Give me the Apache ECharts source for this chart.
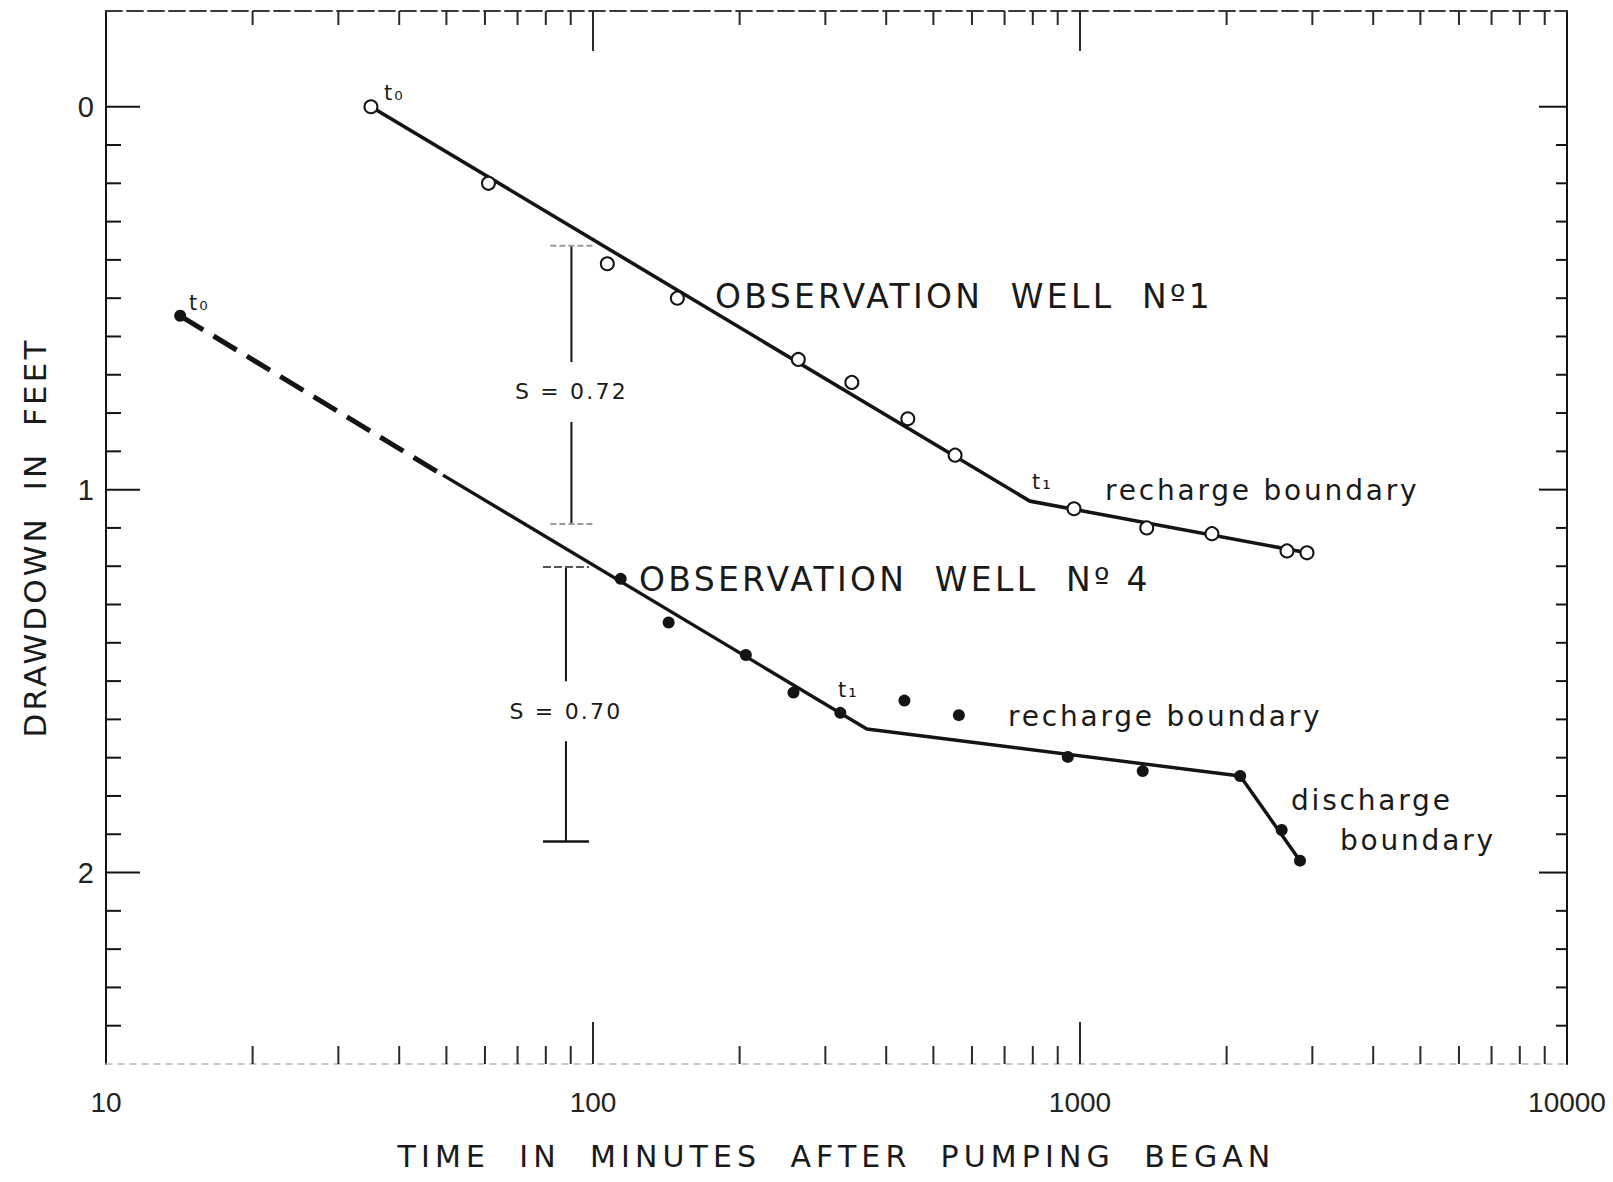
<!DOCTYPE html>
<html>
<head>
<meta charset="utf-8">
<script src="https://cdn.jsdelivr.net/npm/echarts@6/dist/echarts.min.js"></script>
<style>
html, body { margin: 0; padding: 0; background: #ffffff; }
#chart { width: 1613px; height: 1182px; }
#chart text[style*="DejaVu"] { letter-spacing: 0.1em; }
#chart text[style*="DejaVu"][style*="30px"] { letter-spacing: 0.17em; }
</style>
</head>
<body>
<div id="chart"></div>
<script>
// ---------------- data ----------------
// Observation well No.1 (open circles)
const well1Time     = [35, 61, 107, 149, 264, 340, 443, 554, 972, 1371, 1866, 2661, 2925];
const well1Drawdown = [0.0, 0.20, 0.41, 0.50, 0.66, 0.72, 0.815, 0.91, 1.05, 1.10, 1.115, 1.16, 1.165];
// fitted straight-line segments, well 1
const well1FitTime     = [35, 789, 2925];
const well1FitDrawdown = [0.0, 1.03, 1.165];

// Observation well No.4 (filled dots)
const well4Time     = [14.2, 114, 143, 206, 258, 322, 436, 564, 944, 1345, 2133, 2595, 2830];
const well4Drawdown = [0.546, 1.233, 1.347, 1.432, 1.53, 1.583, 1.551, 1.589, 1.698, 1.735, 1.748, 1.889, 1.969];
// fitted segments, well 4 (dashed extrapolation then solid)
const well4DashTime     = [14.2, 49.2];
const well4DashDrawdown = [0.546, 0.962];
const well4FitTime      = [49.2, 365, 2133, 2830];
const well4FitDrawdown  = [0.962, 1.625, 1.748, 1.969];

// slope markers (drawdown per log cycle)
const sBarTime   = [90.3, 88.0];
const sBarTop    = [0.363, 1.202];
const sBarBottom = [1.090, 1.919];
const sBarLabel  = ['S = 0.72', 'S = 0.70'];

// axes
const xMajorTicks = [10, 100, 1000, 10000];
const xMinorMultipliers = [2, 3, 4, 5, 6, 7, 8, 9];
const xTickLabels = ['10', '100', '1000', '10000'];
const yMajorTicks = [0, 1, 2];
const yTickLabels = ['0', '1', '2'];
const yMin = -0.25, yMax = 2.5, yTickStep = 0.1, yLastTick = 2.4;

// ---------------- build ----------------
const pairs = (xs, ys) => xs.map((x, i) => [x, ys[i]]);

const xTickData = [];
for (let k = 0; k < xMajorTicks.length - 1; k++) {
  const d = xMajorTicks[k];
  xMinorMultipliers.forEach(m => xTickData.push([d * m, 0, 0]));
  if (k > 0) xTickData.push([d, 0, 1]);
}
const yTickData = [];
for (let i = 0; i * yTickStep <= yLastTick + 1e-9; i++) {
  const v = Math.round(i * yTickStep * 10) / 10;
  yTickData.push([100, v, yMajorTicks.includes(v) ? 1 : 0]);
}

const INK = '#141414';
const TEXT = '#1a1a1a';
const FONT = 'DejaVu Sans';
const NUMFONT = 'Liberation Sans Narrow, Liberation Sans, sans-serif';

const chart = echarts.init(document.getElementById('chart'), null, { renderer: 'svg' });

function renderXTicks(params, api) {
  const cs = params.coordSys;
  const x = api.coord([api.value(0), 0])[0];
  const major = api.value(2) === 1;
  const top = cs.y, bot = cs.y + cs.height;
  const lb = major ? 42 : 18, lt = major ? 40 : 14;
  return {
    type: 'group',
    children: [
      { type: 'line', shape: { x1: x, y1: bot, x2: x, y2: bot - lb }, style: { stroke: '#2a2a2a', lineWidth: 2 } },
      { type: 'line', shape: { x1: x, y1: top, x2: x, y2: top + lt }, style: { stroke: '#2a2a2a', lineWidth: 2 } }
    ]
  };
}

function renderYTicks(params, api) {
  const cs = params.coordSys;
  const y = api.coord([100, api.value(1)])[1];
  const major = api.value(2) === 1;
  const l = cs.x, r = cs.x + cs.width;
  const ll = major ? 34 : 15, lr = major ? 28 : 11;
  return {
    type: 'group',
    children: [
      { type: 'line', shape: { x1: l, y1: y, x2: l + ll, y2: y }, style: { stroke: INK, lineWidth: 2 } },
      { type: 'line', shape: { x1: r, y1: y, x2: r - lr, y2: y }, style: { stroke: INK, lineWidth: 2 } }
    ]
  };
}

const capStyles = [
  [{ stroke: '#9a9a9a', lineWidth: 2, lineDash: [6, 3] }, { stroke: '#9a9a9a', lineWidth: 2, lineDash: [6, 3] }],
  [{ stroke: '#555555', lineWidth: 2, lineDash: [8, 3] }, { stroke: INK, lineWidth: 2.5 }]
];

function renderSBar(params, api) {
  const i = params.dataIndex;
  const t = api.value(0);
  const pTop = api.coord([t, api.value(1)]);
  const pBot = api.coord([t, api.value(2)]);
  const x = pTop[0];
  const mid = (pTop[1] + pBot[1]) / 2 + 7;
  const cw = i === 1 ? 23 : 21;
  return {
    type: 'group',
    children: [
      { type: 'line', shape: { x1: x, y1: pTop[1], x2: x, y2: pBot[1] }, style: { stroke: INK, lineWidth: 2 } },
      { type: 'line', shape: { x1: x - cw, y1: pTop[1], x2: x + cw, y2: pTop[1] }, style: capStyles[i][0] },
      { type: 'line', shape: { x1: x - cw, y1: pBot[1], x2: x + cw, y2: pBot[1] }, style: capStyles[i][1] },
      {
        type: 'text', z2: 10,
        style: {
          text: sBarLabel[i], x: x, y: mid, align: 'center', verticalAlign: 'middle',
          font: '22px ' + FONT, fill: TEXT, backgroundColor: '#ffffff', padding: [19, 4]
        }
      }
    ]
  };
}

const annot = (text, x, y, size) => ({
  type: 'text', x: x, y: y, z: 50,
  style: { text: text, font: size + 'px ' + FONT, fill: TEXT, align: 'left', verticalAlign: 'middle' }
});

const option = {
  animation: false,
  backgroundColor: '#ffffff',
  grid: { left: 106, right: 46, top: 11, bottom: 118, containLabel: false },
  xAxis: [
    {
      type: 'log', logBase: 10, min: 10, max: 10000, position: 'bottom',
      name: 'TIME  IN  MINUTES  AFTER  PUMPING  BEGAN',
      nameLocation: 'middle', nameGap: 77,
      nameTextStyle: { fontFamily: FONT, fontSize: 30, color: TEXT },
      axisLine: { show: true, onZero: false, lineStyle: { color: '#b5b5b5', width: 1.5, type: [6, 6] } },
      axisTick: { show: false },
      splitLine: { show: false },
      minorTick: { show: false },
      axisLabel: {
        margin: 24, fontFamily: NUMFONT, fontSize: 28, color: '#222',
        formatter: v => {
          const k = xMajorTicks.findIndex(m => Math.abs(m - v) / m < 1e-6);
          return k >= 0 ? xTickLabels[k] : '';
        }
      }
    },
    {
      type: 'log', logBase: 10, min: 10, max: 10000, position: 'top',
      axisLine: { show: true, onZero: false, lineStyle: { color: '#3a3a3a', width: 1.8, type: [16, 5] } },
      axisTick: { show: false }, axisLabel: { show: false }, splitLine: { show: false }
    }
  ],
  yAxis: [
    {
      type: 'value', inverse: true, min: yMin, max: yMax, interval: 0.25, position: 'left',
      name: 'DRAWDOWN  IN  FEET',
      nameLocation: 'middle', nameGap: 56, nameRotate: 90,
      nameTextStyle: { fontFamily: FONT, fontSize: 31, color: TEXT },
      axisLine: { show: true, onZero: false, lineStyle: { color: INK, width: 2 } },
      axisTick: { show: false },
      splitLine: { show: false },
      axisLabel: {
        margin: 12, fontFamily: NUMFONT, fontSize: 29, color: '#222',
        formatter: v => {
          const k = yMajorTicks.findIndex(m => Math.abs(m - v) < 1e-6);
          return k >= 0 ? yTickLabels[k] : '';
        }
      }
    },
    {
      type: 'value', inverse: true, min: yMin, max: yMax, interval: 0.25, position: 'right',
      axisLine: { show: true, onZero: false, lineStyle: { color: INK, width: 2 } },
      axisTick: { show: false }, axisLabel: { show: false }, splitLine: { show: false }
    }
  ],
  series: [
    {
      name: 'x ticks', type: 'custom', renderItem: renderXTicks, data: xTickData,
      silent: true, clip: false, z: 1
    },
    {
      name: 'y ticks', type: 'custom', renderItem: renderYTicks, data: yTickData,
      silent: true, clip: false, z: 1
    },
    {
      name: 'slope markers', type: 'custom', renderItem: renderSBar,
      data: sBarTime.map((t, i) => [t, sBarTop[i], sBarBottom[i]]),
      encode: { x: 0, y: [1, 2] }, silent: true, z: 2
    },
    {
      name: 'Well 1 fit', type: 'line', data: pairs(well1FitTime, well1FitDrawdown),
      showSymbol: false, symbol: 'none', lineStyle: { color: INK, width: 3.6 }, z: 3, silent: true
    },
    {
      name: 'Well 4 extrapolation', type: 'line', data: pairs(well4DashTime, well4DashDrawdown),
      showSymbol: false, symbol: 'none', lineStyle: { color: INK, width: 5, type: [27, 12] }, z: 3, silent: true
    },
    {
      name: 'Well 4 fit', type: 'line', data: pairs(well4FitTime, well4FitDrawdown),
      showSymbol: false, symbol: 'none', lineStyle: { color: INK, width: 3.4 }, z: 3, silent: true
    },
    {
      name: 'Observation well No.1', type: 'scatter', data: pairs(well1Time, well1Drawdown),
      symbol: 'circle', symbolSize: 13,
      itemStyle: { color: '#ffffff', borderColor: INK, borderWidth: 2, opacity: 1 }, z: 5
    },
    {
      name: 'Observation well No.4', type: 'scatter', data: pairs(well4Time, well4Drawdown),
      symbol: 'circle', symbolSize: 12,
      itemStyle: { color: INK, opacity: 1 }, z: 5
    }
  ],
  graphic: [
    annot('OBSERVATION  WELL  Nº1', 715, 296, 33),
    annot('OBSERVATION  WELL  Nº 4', 639, 579, 33),
    annot('recharge boundary', 1105, 490, 28),
    annot('recharge boundary', 1008, 716, 28),
    annot('discharge', 1291, 800, 28),
    annot('boundary', 1340, 840, 28),
    annot('t₀', 384, 93, 21),
    annot('t₀', 189, 303, 21),
    annot('t₁', 1032, 482, 21),
    annot('t₁', 838, 690, 21)
  ]
};

chart.setOption(option);
</script>
</body>
</html>
